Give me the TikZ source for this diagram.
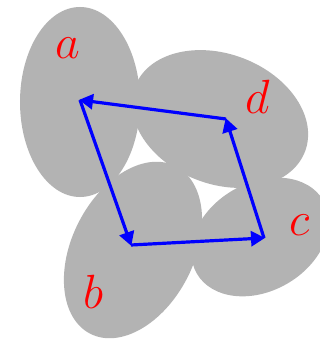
\documentclass[tikz,border=0pt]{standalone}
\usetikzlibrary{arrows.meta}
\definecolor{blobgray}{RGB}{179,179,179}
\tikzset{
  blob/.style={fill=blobgray},
  link/.style={draw=blue, line width=3.2pt, -{Triangle[length=14pt,width=15pt]}, shorten >=-1pt},
  setlabel/.style={text=red, inner sep=0pt, font=\Huge, scale=1.93, transform shape},
}
\begin{document}
\begin{tikzpicture}[x=1pt,y=-1pt]
\clip (0,0) rectangle (320,339);
\fill[white] (0,0) rectangle (320,339);
% sets
\fill[blob] (80,102) ellipse [x radius=60pt, y radius=95pt];
\fill[blob, rotate around={-21:(220,119)}] (220,119) ellipse [x radius=91pt, y radius=65pt];
\fill[blob, rotate around={30:(260,237)}] (260,237) ellipse [x radius=73pt, y radius=54pt];
\fill[blob, rotate around={63:(133,250)}] (133,250) ellipse [x radius=94pt, y radius=61pt];
% vertices
\coordinate (A) at (80,100);
\coordinate (B) at (131,245);
\coordinate (C) at (264,238);
\coordinate (D) at (226,119);
% arrows
\draw[link] (A) -- (B);
\draw[link] (B) -- (C);
\draw[link] (C) -- (D);
\draw[link] (D) -- (A);
% labels
\node[setlabel] (la) at (68,48) {$a$};
\node[setlabel] (lb) at (93,292) {$b$};
\node[setlabel] (lc) at (300,225) {$c$};
\node[setlabel] (ld) at (258,97) {$d$};
\end{tikzpicture}
\end{document}
